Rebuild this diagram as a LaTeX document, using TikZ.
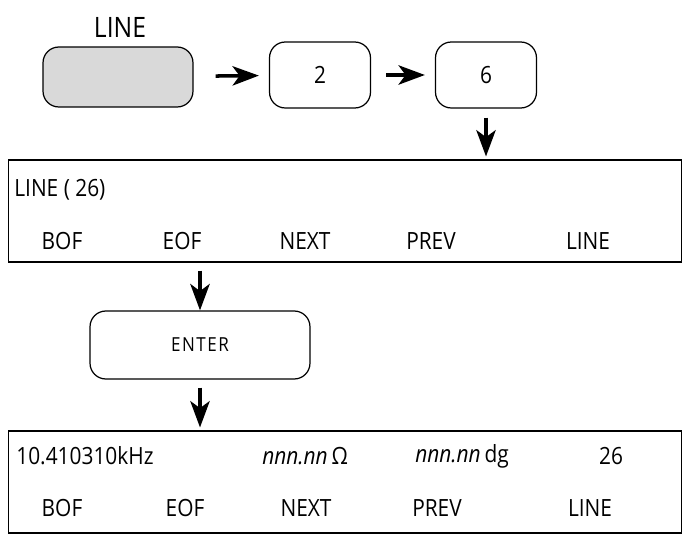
\documentclass[tikz,border=0pt]{standalone}
\usepackage{fontspec}
\setmainfont{Open Sans}[FakeStretch=0.88]
\usetikzlibrary{arrows.meta,positioning}

\begin{document}
\begin{tikzpicture}[x=0.02cm,y=-0.02cm,
  keybox/.style={draw,rounded corners=9pt,line width=0.7pt,minimum width=2.02cm,minimum height=1.32cm,font=\fontsize{13.5}{16}\selectfont},
  screen/.style={draw,line width=0.6pt,minimum width=13.48cm,minimum height=2.04cm},
  txt/.style={inner sep=0pt,font=\fontsize{13.5}{16}\selectfont},
  flow/.style={-{Stealth[length=15pt,width=11pt,inset=4pt]},line width=2pt}]
  \useasboundingbox (0,0) rectangle (686,540);
  % key sequence
  \node[txt,font=\fontsize{16}{18}\selectfont] (linelbl) at (120,27) {LINE};
  \node[keybox,fill=gray!30,minimum width=3cm,minimum height=1.2cm] (linekey) at (118,77) {};
  \node[keybox] (two) at (320,75) {2};
  \node[keybox] (six) at (486,75) {6};
  % first screen
  \node[screen] (scr1) at (345,211) {};
  \node[txt,anchor=west] (title1) at (14,190) {LINE ( 26)};
  \foreach \x/\s [count=\i] in {62/BOF,182/EOF,305/NEXT,431/PREV,588/LINE}
    \node[txt] (sk1-\i) at (\x,241) {\s};
  \node[keybox,minimum width=4.4cm,minimum height=1.36cm,font=\fontsize{11}{13}\selectfont\addfontfeature{LetterSpace=8}] (enter) at (200,345) {ENTER};
  % second screen
  \node[screen] (scr2) at (345,482) {};
  \node[txt,anchor=west] (freq) at (16,456) {10.410310kHz};
  \node[txt,anchor=west] (mag) at (262,456) {\itshape nnn.nn\,\upshape Ω};
  \node[txt,anchor=west] (phase) at (415,456) {\itshape nnn.nn\,\upshape dg};
  \node[txt] (num) at (611,456) {26};
  \foreach \x/\s [count=\i] in {62/BOF,185/EOF,306/NEXT,437/PREV,590/LINE}
    \node[txt] (sk2-\i) at (\x,508) {\s};
  % arrows
  \draw[flow,shorten <=0.44cm,shorten >=0.2cm] (linekey) -- (two);
  \draw[flow,shorten <=0.3cm,shorten >=0.2cm] (two) -- (six);
  \draw[flow,shorten <=0.18cm,shorten >=0.06cm] (six) -- (six |- scr1.north);
  \draw[flow,shorten <=0.16cm] (enter.north |- scr1.south) -- (enter);
  \draw[flow,shorten <=0.16cm,shorten >=0.06cm] (enter) -- (enter |- scr2.north);
\end{tikzpicture}
\end{document}
